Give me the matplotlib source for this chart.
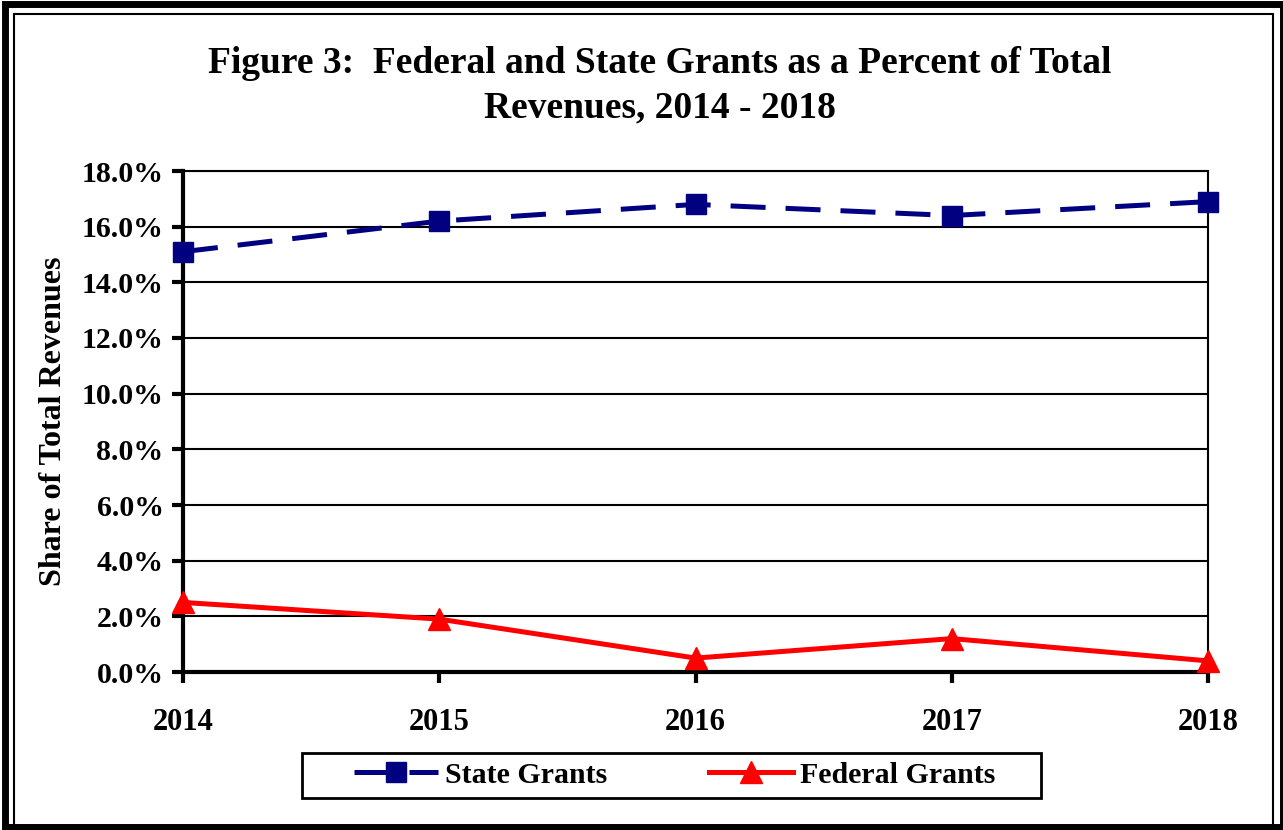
import matplotlib.pyplot as plt
from matplotlib.patches import Rectangle
from matplotlib.ticker import FuncFormatter

plt.rcParams['font.family'] = ['Liberation Serif', 'DejaVu Serif']
plt.rcParams['font.weight'] = 'bold'

years = [2014, 2015, 2016, 2017, 2018]
state_grants = [15.1, 16.2, 16.8, 16.4, 16.9]
federal_grants = [2.5, 1.9, 0.5, 1.2, 0.4]

W, H = 1283, 830
fig = plt.figure(figsize=(W / 100, H / 100), dpi=100)

# double frame round the whole picture
fig.patches.append(Rectangle((5 / W, 3 / H), 1 - 5 / W, 1 - 7 / H, transform=fig.transFigure,
                             fill=False, edgecolor='black', linewidth=5))
fig.patches.append(Rectangle((14 / W, 4 / H), 1259 / W, 812 / H, transform=fig.transFigure,
                             fill=False, edgecolor='black', linewidth=1.5))
# legend box
fig.patches.append(Rectangle((302 / W, 1 - 798 / H), 739 / W, 45 / H, transform=fig.transFigure,
                             fill=False, edgecolor='black', linewidth=2))

ax = fig.add_axes([183 / W, 1 - 672 / H, (1208 - 183) / W, (672 - 171) / H])

ax.plot(years, state_grants, color='#000080', linewidth=3.6, dashes=(7, 4),
        marker='s', markersize=14, label='State Grants', clip_on=False, zorder=3)
ax.plot(years, federal_grants, color='#ff0000', linewidth=3.6,
        marker='^', markersize=16, label='Federal Grants', clip_on=False, zorder=3)

ax.set_xlim(2014, 2018)
ax.set_ylim(0, 18)
ax.set_xticks(years)
ax.set_yticks(range(0, 19, 2))
ax.yaxis.set_major_formatter(FuncFormatter(lambda v, p: f'{v:.1f}%'))
ax.grid(axis='y', color='black', linewidth=1.5)
ax.set_axisbelow(True)

for s in ['left', 'bottom']:
    ax.spines[s].set_linewidth(3)
ax.spines['right'].set_linewidth(1.5)
ax.spines['top'].set_linewidth(1.5)
ax.tick_params(axis='y', length=8, width=3, labelsize=21.5, pad=6)
ax.tick_params(axis='x', length=8, width=3, labelsize=22, pad=18)
for lab in ax.get_xticklabels() + ax.get_yticklabels():
    lab.set_fontweight('bold')

ax.set_ylabel('Share of Total Revenues', fontsize=23, fontweight='bold', labelpad=10)

fig.text(660 / W, 1 - 86 / H, 'Figure 3:  Federal and State Grants as a Percent of Total\nRevenues, 2014 - 2018',
         ha='center', va='center', fontsize=27, fontweight='bold', linespacing=1.35)

leg = fig.legend(loc='center', bbox_to_anchor=(675 / W, 1 - 775 / H), ncol=2, fontsize=21.5,
                 frameon=False, handlelength=2.8, columnspacing=3.4, handletextpad=0.25)
for t in leg.get_texts():
    t.set_fontweight('bold')

fig.savefig('out.png', dpi=100)
